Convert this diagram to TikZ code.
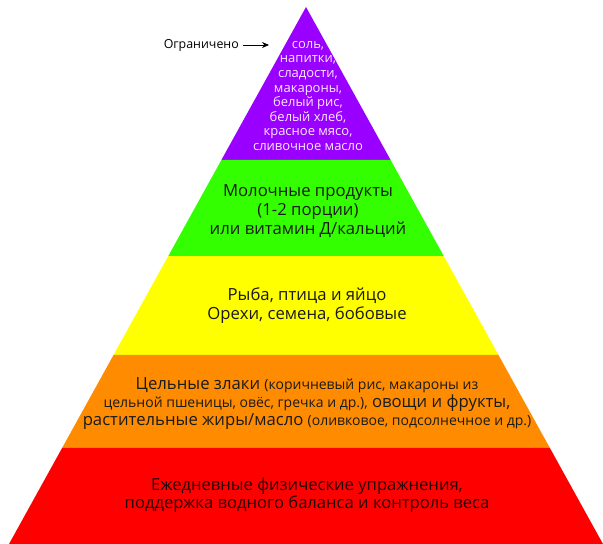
\documentclass[tikz,border=0pt]{standalone}
\usepackage{fontspec}
\setmainfont{Open Sans}
\usetikzlibrary{calc,arrows.meta}
\definecolor{cpurple}{HTML}{9900FF}
\definecolor{cgreen}{HTML}{33FF00}
\definecolor{cyellow}{HTML}{FFFF00}
\definecolor{corange}{HTML}{FF8C00}
\definecolor{cred}{HTML}{FF0000}
\definecolor{ptext}{HTML}{FCE8FF}
\definecolor{dtext}{HTML}{1A1A1A}
\newcommand{\smallpart}{\fontsize{14}{18}\selectfont}
\begin{document}
\begin{tikzpicture}[x=1pt,y=-1pt,
  lbl/.style={align=center,text=dtext,inner sep=0pt,font=\fontsize{16.7}{19}\selectfont}]
\useasboundingbox (0,0) rectangle (603,544);
\fill[white] (0,0) rectangle (603,544);
\coordinate (A) at (306,7);
\coordinate (BL) at (9,544);
\coordinate (BR) at (603,544);
\foreach \n/\t in {1/0.2849,2/0.4637,3/0.6480,4/0.8212,5/1}{
  \coordinate (L\n) at ($(A)!\t!(BL)$);
  \coordinate (R\n) at ($(A)!\t!(BR)$);
}
\fill[cpurple] (A) -- (L1) -- (R1) -- cycle;
\fill[cgreen] (L1) -- (L2) -- (R2) -- (R1) -- cycle;
\fill[cyellow] (L2) -- (L3) -- (R3) -- (R2) -- cycle;
\fill[corange] (L3) -- (L4) -- (R4) -- (R3) -- cycle;
\fill[cred] (L4) -- (L5) -- (R5) -- (R4) -- cycle;

\node[align=center,text=ptext,inner sep=0pt,font=\fontsize{13}{14.6}\selectfont] (top) at (308,96)
 {соль,\\напитки,\\сладости,\\макароны,\\белый рис,\\белый хлеб,\\красное мясо,\\сливочное масло};
\node[inner sep=0pt,text=black,font=\fontsize{12.4}{14}\selectfont,anchor=east] (lim) at (239,45) {Ограничено};
\coordinate (limend) at (269,45);
\draw[-{Stealth[length=7pt,width=6pt]},line width=0.8pt] ([xshift=4pt]lim.east) -- (limend);

\node[lbl] (dairy) at (308,211) {Молочные продукты\\(1-2 порции)\\или витамин Д/кальций};
\node[lbl] (fish) at (307,305.5) {Рыба, птица и яйцо\\Орехи, семена, бобовые};
\node[lbl,font=\fontsize{16.7}{18}\selectfont] (grain) at (307,404) {Цельные злаки {\smallpart(коричневый рис, макароны из}\\
 {\smallpart цельной пшеницы, овёс, гречка и др.),} овощи и фрукты,\\
 растительные жиры/масло {\smallpart(оливковое, подсолнечное и др.)}};
\node[lbl,font=\fontsize{16.6}{18.5}\selectfont,text=black!85!red] (sport) at (307,495) {Ежедневные физические упражнения,\\поддержка водного баланса и контроль веса};
\end{tikzpicture}
\end{document}
